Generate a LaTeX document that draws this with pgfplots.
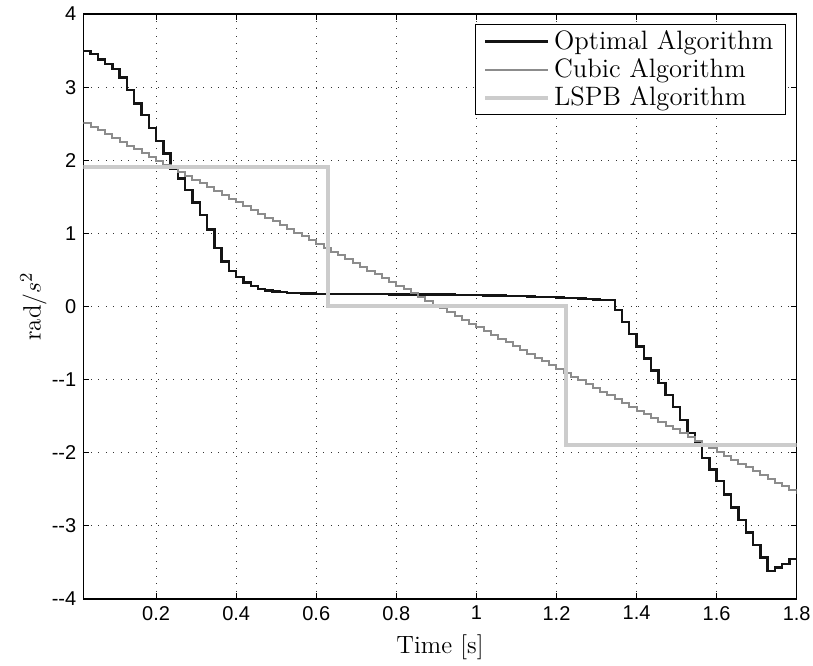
\documentclass[border=0pt]{standalone}
\usepackage{pgfplots}
\usepackage{pgfplotstable}
\pgfplotsset{compat=1.18}
\usepackage{fontspec}
\newfontfamily\ticksf{Liberation Sans}
\definecolor{optc}{gray}{0.08}
\definecolor{cubc}{gray}{0.55}
\definecolor{lspbc}{gray}{0.80}

\pgfplotstableread{
t opt cub
0.0182 3.490 2.510
0.0364 3.450 2.458
0.0545 3.375 2.407
0.0727 3.320 2.355
0.0909 3.250 2.303
0.1091 3.130 2.251
0.1273 2.960 2.200
0.1455 2.775 2.148
0.1636 2.615 2.096
0.1818 2.440 2.044
0.2000 2.265 1.993
0.2182 2.090 1.941
0.2364 1.880 1.889
0.2545 1.750 1.837
0.2727 1.590 1.786
0.2909 1.420 1.734
0.3091 1.250 1.682
0.3273 1.055 1.630
0.3455 0.800 1.579
0.3636 0.614 1.527
0.3818 0.487 1.475
0.4000 0.400 1.423
0.4182 0.330 1.372
0.4364 0.280 1.320
0.4545 0.240 1.268
0.4727 0.220 1.216
0.4909 0.205 1.165
0.5091 0.195 1.113
0.5273 0.188 1.061
0.5455 0.183 1.009
0.5636 0.179 0.958
0.5818 0.176 0.906
0.6000 0.174 0.854
0.6182 0.172 0.802
0.6364 0.171 0.751
0.6545 0.170 0.699
0.6727 0.169 0.647
0.6909 0.169 0.595
0.7091 0.168 0.544
0.7273 0.168 0.492
0.7455 0.167 0.440
0.7636 0.167 0.388
0.7818 0.166 0.337
0.8000 0.166 0.285
0.8182 0.165 0.233
0.8364 0.165 0.181
0.8545 0.164 0.129
0.8727 0.164 0.078
0.8909 0.163 0.026
0.9091 0.163 -0.026
0.9273 0.162 -0.078
0.9455 0.160 -0.129
0.9636 0.159 -0.181
0.9818 0.157 -0.233
1.0000 0.155 -0.285
1.0182 0.153 -0.337
1.0364 0.151 -0.388
1.0545 0.148 -0.440
1.0727 0.146 -0.492
1.0909 0.143 -0.544
1.1091 0.140 -0.595
1.1273 0.137 -0.647
1.1455 0.133 -0.699
1.1636 0.130 -0.751
1.1818 0.126 -0.802
1.2000 0.122 -0.854
1.2182 0.118 -0.906
1.2364 0.113 -0.958
1.2545 0.108 -1.009
1.2727 0.103 -1.061
1.2909 0.097 -1.113
1.3091 0.091 -1.165
1.3273 0.085 -1.216
1.3455 -0.045 -1.268
1.3636 -0.213 -1.320
1.3818 -0.377 -1.372
1.4000 -0.545 -1.423
1.4182 -0.713 -1.475
1.4364 -0.877 -1.527
1.4545 -1.045 -1.579
1.4727 -1.214 -1.630
1.4909 -1.378 -1.682
1.5091 -1.555 -1.734
1.5273 -1.727 -1.786
1.5455 -1.864 -1.837
1.5636 -2.068 -1.889
1.5818 -2.228 -1.941
1.6000 -2.387 -1.993
1.6182 -2.569 -2.044
1.6364 -2.750 -2.096
1.6545 -2.920 -2.148
1.6727 -3.090 -2.200
1.6909 -3.265 -2.251
1.7091 -3.430 -2.303
1.7273 -3.615 -2.355
1.7455 -3.570 -2.407
1.7636 -3.525 -2.458
1.7818 -3.450 -2.510
1.8000 -3.450 -2.562
}\trajdata

\pgfplotstableread{
t lspb
0.0182 1.91
0.6290 0.00
1.2234 -1.90
1.8000 -1.90
}\lspbdata

\begin{document}
\begin{tikzpicture}
\begin{axis}[
  scale only axis,
  width=356.7pt, height=292.5pt,
  xmin=0.0182, xmax=1.8,
  ymin=-4, ymax=4,
  xtick={0.2,0.4,0.6,0.8,1,1.2,1.4,1.6,1.8},
  xticklabels={0.2,0.4,0.6,0.8,1,1.2,1.4,1.6,1.8},
  ytick={-4,-3,-2,-1,0,1,2,3,4},
  yticklabels={--4,--3,--2,--1,0,1,2,3,4},
  tick align=inside,
  major tick length=3pt,
  every tick/.style={black, line width=0.5pt},
  axis line style={black, line width=0.6pt},
  ticklabel style={font=\ticksf\fontsize{10}{11}\selectfont},
  /pgf/number format/assume math mode=true,
  grid=major,
  major grid style={black!80, line width=0.45pt, dash pattern=on 0.45pt off 3.3pt},
  xlabel={Time [s]},
  ylabel={rad$/s^2$},
  label style={font=\fontsize{12.5}{14}\selectfont},
  xlabel style={at={(axis description cs:0.5,-0.083)}, anchor=center},
  ylabel style={at={(axis description cs:-0.07,0.5)}, anchor=center},
  legend cell align=left,
  legend image code/.code={\draw[#1] (0pt,0pt) -- (31.5pt,0pt);},
  legend style={at={(0.985,0.983)}, anchor=north east, draw=black,
    line width=0.6pt, font=\fontsize{13.3}{13.5}\selectfont,
    inner xsep=4pt, inner ysep=1pt, row sep=-1pt,
    /tikz/every odd column/.style={column sep=0pt}},
]
\addplot[const plot, color=optc, line width=1.2pt] table[x=t, y=opt] {\trajdata};
\addlegendentry{Optimal Algorithm}
\addplot[const plot, color=cubc, line width=1pt] table[x=t, y=cub] {\trajdata};
\addlegendentry{Cubic Algorithm}
\addplot[const plot, color=lspbc, line width=2pt] table[x=t, y=lspb] {\lspbdata};
\addlegendentry{LSPB Algorithm}
\end{axis}
\pgfresetboundingbox
\path ([xshift=-41.65pt,yshift=-33.5pt]current axis.south west) rectangle ([xshift=8.15pt,yshift=7pt]current axis.north east);
\end{tikzpicture}
\end{document}
